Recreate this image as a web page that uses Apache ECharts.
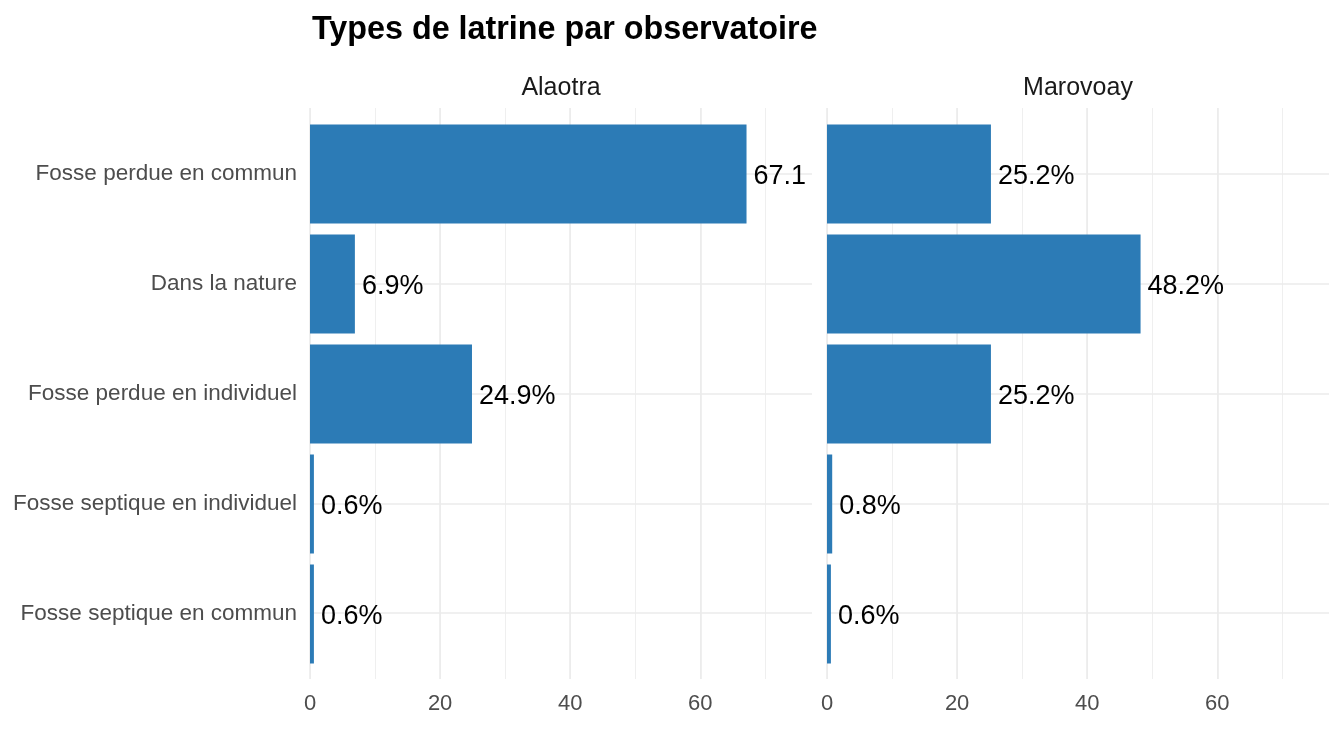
<!DOCTYPE html>
<html>
<head>
<meta charset="utf-8">
<script src="https://cdn.jsdelivr.net/npm/echarts@6/dist/echarts.min.js"></script>
<style>
html,body{margin:0;padding:0;background:#fff;}
#c{width:1344px;height:729px;}
</style>
</head>
<body>
<div id="c"></div>
<script>
const categories = ["Fosse perdue en commun","Dans la nature","Fosse perdue en individuel","Fosse septique en individuel","Fosse septique en commun"];
const panels = ["Alaotra","Marovoay"];
const alaotra = [67.1, 6.9, 24.9, 0.6, 0.6];
const marovoay = [25.2, 48.2, 25.2, 0.8, 0.6];
const xTicks = [0, 20, 40, 60];
const titleText = "Types de latrine par observatoire";

const FONT = '"Liberation Sans", Arial, sans-serif';
const xMax = 77.165;
const panelW = 502;
const lefts = [310, 827];
const bgTop = 108, bgH = 571;
const fgTop = 119, fgH = 550;
const barColor = '#2C7BB6';
const gridColor = '#ebebeb';

const chart = echarts.init(document.getElementById('c'), null, {renderer:'canvas'});

const grids = [], xAxes = [], yAxes = [], series = [];
const values = [alaotra, marovoay];

lefts.forEach((l, p) => {
  grids.push({left:l, top:bgTop, width:panelW, height:bgH, containLabel:false});
  const bg = grids.length - 1;
  grids.push({left:l, top:fgTop, width:panelW, height:fgH, containLabel:false});
  const fg = grids.length - 1;

  xAxes.push({type:'value', gridIndex:bg, min:0, max:xMax, interval:10, position:'top',
    axisLine:{show:false}, axisTick:{show:false}, axisLabel:{show:false},
    splitLine:{show:true, showMaxLine:false, lineStyle:{color:gridColor, width:0.8}}});
  xAxes.push({type:'value', gridIndex:bg, min:0, max:xMax, interval:20, position:'bottom',
    axisLine:{show:false}, axisTick:{show:false},
    axisLabel:{show:true, showMaxLabel:false, fontFamily:FONT, fontSize:22, color:'#4d4d4d', margin:14,
      formatter: v => xTicks.includes(v) ? String(v) : ''},
    splitLine:{show:true, showMaxLine:false, lineStyle:{color:gridColor, width:1.6}}});
  yAxes.push({type:'value', gridIndex:bg, min:-0.6, max:categories.length - 0.4, inverse:true,
    axisLine:{show:false}, axisTick:{show:false}, axisLabel:{show:false},
    splitLine:{show:true, showMinLine:false, showMaxLine:false, lineStyle:{color:gridColor, width:1.6}}});

  xAxes.push({type:'value', gridIndex:fg, min:0, max:xMax, show:false});
  const fx = xAxes.length - 1;
  yAxes.push({type:'category', gridIndex:fg, data:categories, inverse:true,
    axisLine:{show:false}, axisTick:{show:false}, splitLine:{show:false},
    axisLabel:{show:p===0, fontFamily:FONT, fontSize:22.5, color:'#4d4d4d', margin:13, padding:[5,0,0,0]}});
  const fy = yAxes.length - 1;

  series.push({
    type:'bar', name:panels[p], xAxisIndex:fx, yAxisIndex:fy,
    barCategoryGap:'10%',
    itemStyle:{color:barColor},
    data: values[p].map(v => ({
      value: v,
      label: {width: Math.max(10, (xMax - v) / xMax * panelW + 2)}
    })),
    label:{show:true, position:'right', distance:7, offset:[0,3], fontFamily:FONT, fontSize:27, color:'#000',
      overflow:'truncate', ellipsis:'', formatter: d => d.value.toFixed(1) + '%'},
    silent:true, animation:false
  });
});

const titles = [{
  text:titleText, left:312, top:14, padding:0,
  textStyle:{fontFamily:FONT, fontSize:32.3, fontWeight:'bold', color:'#000'}
}];
panels.forEach((name, p) => {
  titles.push({text:name, left:lefts[p] + panelW/2, top:76, padding:0, textAlign:'center',
    textStyle:{fontFamily:FONT, fontSize:25, fontWeight:'normal', color:'#1a1a1a'}});
});

chart.setOption({
  backgroundColor:'#fff',
  animation:false,
  title:titles,
  grid:grids, xAxis:xAxes, yAxis:yAxes, series:series
});
</script>
</body>
</html>
